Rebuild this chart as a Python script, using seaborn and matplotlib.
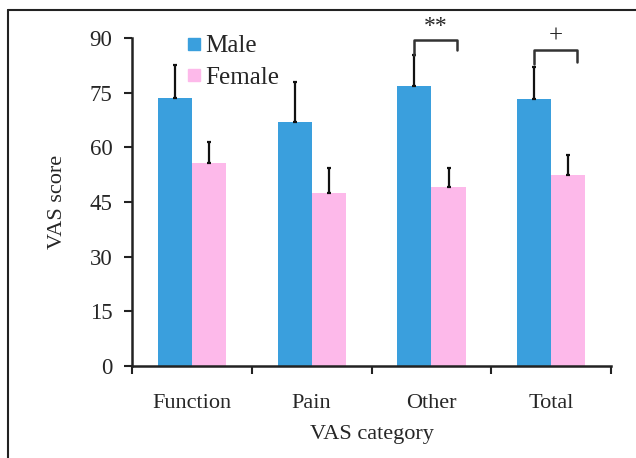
import numpy as np
import pandas as pd
import seaborn as sns
import matplotlib.pyplot as plt
from matplotlib.lines import Line2D

categories = ["Function", "Pain", "Other", "Total"]
male_mean = [73.5, 67.0, 76.8, 73.2]
male_sd = [9.2, 11.0, 8.6, 8.8]
female_mean = [55.8, 47.4, 49.2, 52.5]
female_sd = [5.8, 6.8, 5.0, 5.5]
groups = ["Male", "Female"]
colors = ["#3a9fdd", "#fdb9ea"]

df = pd.DataFrame({
    "category": categories * 2,
    "sex": ["Male"] * 4 + ["Female"] * 4,
    "score": male_mean + female_mean,
})

sns.set_style("white")
plt.rcParams['font.family'] = ['Liberation Serif', 'DejaVu Serif']

fig = plt.figure(figsize=(6.36, 4.58), dpi=100)
ax = fig.add_axes([0.2075, 0.2009, 0.7535, 0.7161])

sns.barplot(data=df, x="category", y="score", hue="sex", order=categories,
            hue_order=groups, palette=colors, width=0.57, saturation=1,
            errorbar=None, linewidth=0, ax=ax)

off = 0.1425
x = np.arange(len(categories))
ax.errorbar(x - off, male_mean, yerr=[np.zeros(4), male_sd], fmt="none",
            ecolor="#111111", elinewidth=1.6, capsize=1.5, capthick=1.6)
ax.errorbar(x + off, female_mean, yerr=[np.zeros(4), female_sd], fmt="none",
            ecolor="#111111", elinewidth=1.6, capsize=1.5, capthick=1.6)

# significance brackets
brackets = [(2, 89.5, 85.3, 86.7, "**", 90.3, 17), (3, 86.8, 83.0, 83.4, "+", 87.3, 18)]
for i, top, yl, yr, lab, ty, fs in brackets:
    x0, x1 = i - off, i + off + 0.07
    ax.plot([x0, x0, x1, x1], [yl, top, top, yr], color="#333333", lw=1.8,
            clip_on=False)
    ax.text((x0 + x1) / 2, ty, lab, ha="center", va="bottom", fontsize=fs,
            clip_on=False)

ax.set_xlim(-0.5, 3.5)
ax.set_ylim(0, 90)
ax.set_yticks([0, 15, 30, 45, 60, 75, 90])
ax.set_xticks(x)
ax.set_xticks(np.arange(-0.5, 4, 1), minor=True)
ax.tick_params(axis="x", which="major", length=0, pad=20, labelsize=16)
ax.tick_params(axis="x", which="minor", length=6, width=1.5, direction="out",
               bottom=True, color="#222222")
ax.tick_params(axis="y", length=6, width=1.5, direction="out", left=True,
               labelsize=16.5, pad=8, color="#222222")
sns.despine(ax=ax)
for s in ["left", "bottom"]:
    ax.spines[s].set_linewidth(1.8)
    ax.spines[s].set_color("#222222")
ax.set_xlabel("VAS category", fontsize=16, labelpad=9)
ax.set_ylabel("VAS score", fontsize=16, labelpad=16)

handles = [Line2D([], [], marker="s", ls="", markersize=9,
                  markerfacecolor=c, markeredgecolor=c) for c in colors]
ax.legend(handles, groups, loc="upper left", bbox_to_anchor=(0.095, 1.04),
          frameon=False, fontsize=18, handlelength=0.5, handletextpad=0.2,
          labelspacing=0.35, borderaxespad=0)

# outer frame (top and left lines)
fig.add_artist(Line2D([8 / 636, 1], [1 - 10 / 458] * 2, color="#222222", lw=1.5,
                      transform=fig.transFigure))
fig.add_artist(Line2D([8 / 636] * 2, [0, 1 - 10 / 458], color="#222222", lw=1.5,
                      transform=fig.transFigure))

fig.savefig("out.png", dpi=100)
